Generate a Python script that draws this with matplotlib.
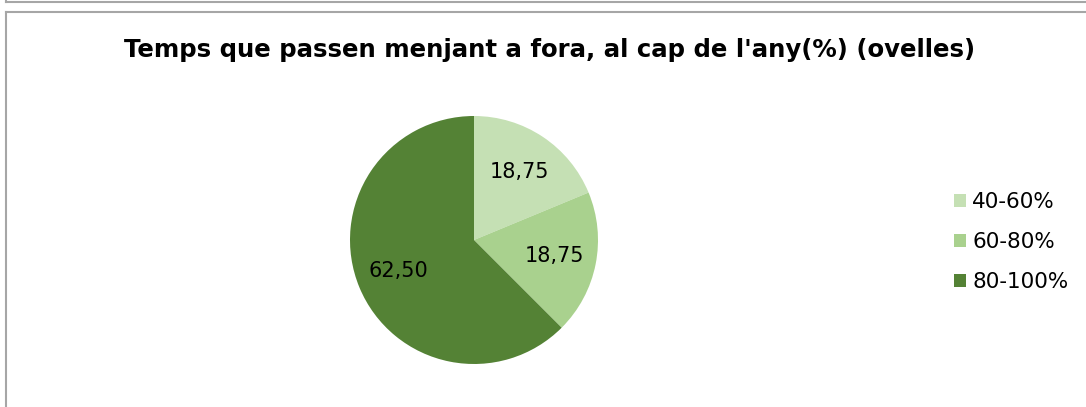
import matplotlib.pyplot as plt
from matplotlib.lines import Line2D
from matplotlib.patches import Patch

categories = ["40-60%", "60-80%", "80-100%"]
values = [18.75, 18.75, 62.50]
colors = ["#c5e0b4", "#a9d18e", "#548235"]
title = "Temps que passen menjant a fora, al cap de l'any(%) (ovelles)"

W, H = 1086, 407


def main():
    fig = plt.figure(figsize=(W / 100, H / 100), dpi=100)

    # outer frame bits: bottom edge of the box above, and the chart's own box
    border = "#a6a6a6"
    fig.add_artist(Line2D([6 / W, 1], [1 - 2 / H, 1 - 2 / H], color=border, lw=1.5))
    fig.add_artist(Line2D([6 / W, 6 / W], [1 - 2 / H, 1], color=border, lw=1.5))
    fig.add_artist(Line2D([6 / W, 1], [1 - 11.5 / H, 1 - 11.5 / H], color=border, lw=1.5))
    fig.add_artist(Line2D([6 / W, 6 / W], [0, 1 - 11.5 / H], color=border, lw=1.5))

    fig.text(550 / W, 1 - 50 / H, title, ha="center", va="center",
             fontsize=17.6, fontweight="bold", color="black")

    cx, cy, r = 474, H - 240, 124
    ax = fig.add_axes([(cx - r) / W, (cy - r) / H, 2 * r / W, 2 * r / H])
    wedges, _, autotexts = ax.pie(
        values,
        colors=colors,
        startangle=90,
        counterclock=False,
        autopct=lambda p: f"{p:.2f}".replace(".", ","),
        pctdistance=0.66,
        wedgeprops=dict(linewidth=0, clip_on=False),
        textprops=dict(fontsize=15, color="black"),
    )
    ax.set_xlim(-1, 1)
    ax.set_ylim(-1, 1)
    ax.set_aspect("equal")
    ax.axis("off")

    handles = [Patch(facecolor=c, edgecolor="none") for c in colors]
    fig.legend(
        handles,
        categories,
        loc="center left",
        bbox_to_anchor=(954 / W, 1 - 242 / H),
        frameon=False,
        fontsize=15.5,
        handlelength=0.56,
        handleheight=0.56,
        handletextpad=0.28,
        labelspacing=0.92,
        borderpad=0,
        borderaxespad=0,
    )

    fig.savefig("out.png", dpi=100, facecolor="white")


if __name__ == "__main__":
    main()
